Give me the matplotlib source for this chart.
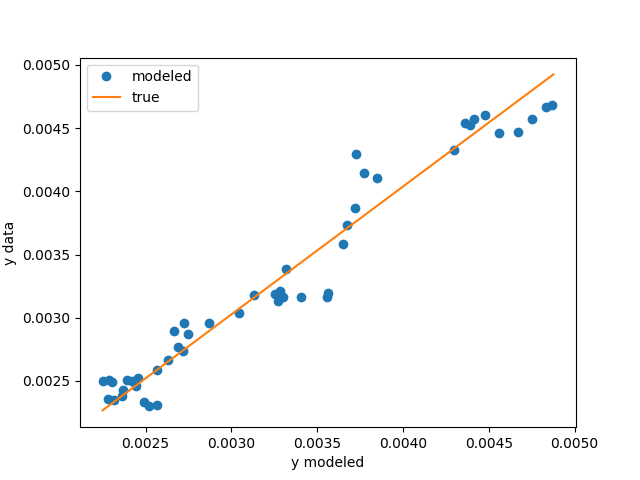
import matplotlib
matplotlib.use('Agg')
import matplotlib.pyplot as plt

# modeled values vs observed data
y_modeled = [0.002251, 0.002284, 0.002303, 0.002278, 0.002313, 0.002362, 0.002371,
             0.002394, 0.002420, 0.002445, 0.002458, 0.002491, 0.002522, 0.002565,
             0.002565, 0.002633, 0.002691, 0.002720, 0.002667, 0.002726, 0.002749,
             0.002871, 0.003045, 0.003133, 0.003317, 0.003253, 0.003286, 0.003272,
             0.003299, 0.003408, 0.003563, 0.003557, 0.003650, 0.003673, 0.003720,
             0.003728, 0.003772, 0.003848, 0.004299, 0.004363, 0.004391, 0.004412,
             0.004478, 0.004557, 0.004673, 0.004751, 0.004833, 0.004871]
y_data = [0.002496, 0.002504, 0.002491, 0.002359, 0.002351, 0.002377, 0.002430,
          0.002504, 0.002496, 0.002462, 0.002522, 0.002332, 0.002298, 0.002306,
          0.002589, 0.002668, 0.002767, 0.002736, 0.002894, 0.002960, 0.002868,
          0.002960, 0.003040, 0.003176, 0.003382, 0.003184, 0.003210, 0.003129,
          0.003161, 0.003163, 0.003198, 0.003163, 0.003585, 0.003730, 0.003870,
          0.004297, 0.004147, 0.004108, 0.004324, 0.004543, 0.004521, 0.004574,
          0.004600, 0.004460, 0.004468, 0.004574, 0.004666, 0.004680]

# true relation
true_x = [0.002249, 0.004877]
true_y = [0.002267, 0.004925]

fig, ax = plt.subplots(figsize=(6.4, 4.8), dpi=100)
ax.plot(y_modeled, y_data, 'o', label='modeled')
ax.plot(true_x, true_y, label='true')
ax.set_xlabel('y modeled')
ax.set_ylabel('y data')
ax.legend(loc='upper left')
fig.savefig('out.png')
